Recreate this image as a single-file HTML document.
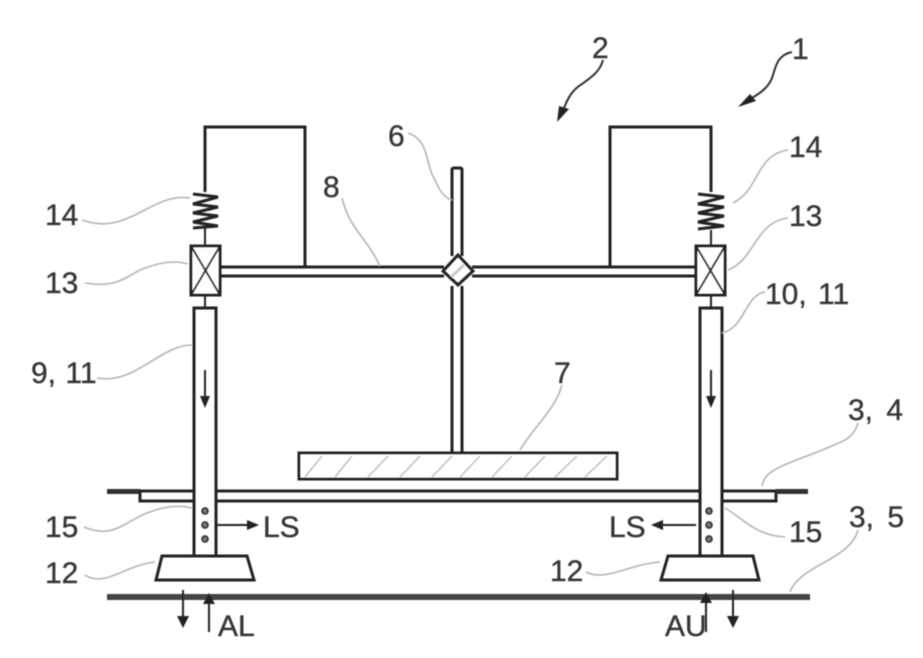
<!DOCTYPE html>
<html><head><meta charset="utf-8">
<style>
html,body{margin:0;padding:0;background:#fff;width:923px;height:658px;overflow:hidden}
svg{display:block}
text{font-family:"Liberation Sans",sans-serif;font-size:30px;fill:#333;stroke:#555;stroke-width:.5}
.l{fill:none;stroke:#222;stroke-width:3}
.t{fill:none;stroke:#222;stroke-width:3}
.g{fill:none;stroke:#b4b4b4;stroke-width:1.6}
.h{stroke:#bbb;stroke-width:1.5}
.a{fill:none;stroke:#222;stroke-width:2}
</style></head><body>
<svg width="923" height="658" viewBox="0 0 923 658" xmlns="http://www.w3.org/2000/svg">
<defs><filter id="b" x="0" y="0" width="100%" height="100%"><feGaussianBlur stdDeviation="0.45"/></filter></defs>
<g filter="url(#b)">
<!-- frames -->
<path class="l" d="M205 192V127H305V266"/>
<path class="l" d="M711 192V127H610V266"/>
<!-- beam -->
<path class="t" d="M221 267H444M221 276H444M472 267H696M472 276H696"/>
<!-- center -->
<path class="t" d="M452 256V170Q452 168 454 168H460Q462 168 462 170V256M452 286V452M462 286V452"/>
<path class="t" d="M458 255L473 271L458 285L443 271Z" fill="#fff"/>
<path d="M451 277L464 265" stroke="#ccc" stroke-width="3"/>
<!-- plate -->
<rect x="299" y="453" width="318" height="26" fill="#fff" stroke="#222" stroke-width="3"/>
<path class="h" d="M305 477L322 456M335 477L352 456M368 477L388 456M400 477L420 456M432 477L452 456M460 477L480 456M492 477L512 456M525 477L545 456M555 477L577 456M585 477L607 456"/>
<!-- floor upper -->
<path d="M107 489H140V494H107Z" fill="#333"/>
<path class="t" d="M140 490V501H194M140 491H194M216 491H700M216 501H700M722 491H776V501H722"/>
<path d="M776 489H808V494H776Z" fill="#333"/>
<!-- ground -->
<rect x="107" y="594" width="703" height="6" fill="#444"/>
<!-- columns -->
<path class="t" d="M194 556V308H216V556" fill="#fff"/>
<path class="t" d="M700 556V308H722V556" fill="#fff"/>
<path class="a" d="M205 295V308M711 295V308M205 228V245M711 230V246"/>
<!-- boxes 13 -->
<g fill="#fff" stroke="#222" stroke-width="3">
<rect x="191" y="246" width="29" height="49"/>
<rect x="696" y="246" width="29" height="49"/>
</g>
<path class="a" d="M191 246L220 295M220 246L191 295M696 246L725 295M725 246L696 295"/>
<!-- springs -->
<g fill="none" stroke="#222" stroke-width="3">
<path d="M193 194L218 197L193 204L218 207L193 213L218 216L193 222L218 226L193 228"/>
<path d="M698 194L724 197L698 204L724 207L698 213L724 216L698 222L724 226L698 229"/>
</g>
<!-- feet -->
<path class="t" d="M162 556H247L254 580H156Z" fill="#fff"/>
<path class="t" d="M668 556H753L759 580H661Z" fill="#fff"/>
<!-- dots -->
<g fill="#777" stroke="#222" stroke-width="1.5">
<circle cx="205" cy="511" r="3"/><circle cx="205" cy="525" r="3"/><circle cx="205" cy="539" r="3"/>
<circle cx="709" cy="511" r="3"/><circle cx="709" cy="525" r="3"/><circle cx="709" cy="539" r="3"/>
</g>
<!-- arrows -->
<path class="a" d="M205 370V400M711 370V400M183 590V620M209 632V600M706 632V600M733 590V620M216 525H250M696 525H660"/>
<g fill="#222">
<path d="M200 396H210L205 408Z"/><path d="M706 396H716L711 408Z"/>
<path d="M177 616H189L183 628Z"/><path d="M203 604H215L209 593Z"/>
<path d="M700 603H712L706 592Z"/><path d="M727 616H739L733 628Z"/>
<path d="M247 520V530L259 525Z"/><path d="M663 520V530L651 525Z"/>
</g>
<!-- leaders -->
<path class="g" d="M82 220C105 228 120 222 135 215C155 205 170 195 190 198"/>
<path class="g" d="M85 283C115 288 125 278 140 270C160 262 175 260 188 264"/>
<path class="g" d="M97 378C135 385 160 345 192 345"/>
<path class="g" d="M84 527C115 540 125 520 150 512C165 506 180 505 192 508"/>
<path class="g" d="M85 575C105 588 125 565 155 562"/>
<path class="g" d="M586 572C605 582 630 564 660 562"/>
<path class="g" d="M725 508C745 520 755 535 785 537"/>
<path class="g" d="M733 203C760 190 755 155 788 150"/>
<path class="g" d="M728 270C755 260 755 222 788 218"/>
<path class="g" d="M722 333C745 328 745 295 765 292"/>
<path class="g" d="M762 486C765 465 800 462 845 440C852 436 856 430 858 423"/>
<path class="g" d="M790 592C800 565 850 560 858 530"/>
<path class="g" d="M408 133C430 140 425 165 435 180C440 192 445 198 452 200"/>
<path class="g" d="M342 198C350 230 365 235 380 266"/>
<path class="g" d="M562 385C555 410 535 425 520 450"/>
<path fill="none" stroke="#333" stroke-width="2" d="M603 60C600 72 590 78 582 84C572 90 568 98 564 108"/>
<path fill="#222" d="M557 122L559 106L569 109Z"/>
<path fill="none" stroke="#333" stroke-width="2" d="M792 52C778 55 776 65 773 75C770 86 762 92 752 98"/>
<path fill="#222" d="M738 107L750 94L756 101Z"/>
<!-- labels -->
<text x="592" y="58">2</text>
<text x="792" y="59">1</text>
<text x="388" y="146">6</text>
<text x="323" y="197">8</text>
<text x="789" y="157">14</text>
<text x="789" y="226">13</text>
<text x="765" y="304" word-spacing="3">10, 11</text>
<text x="45" y="225">14</text>
<text x="45" y="293">13</text>
<text x="31" y="383" word-spacing="1">9, 11</text>
<text x="554" y="383">7</text>
<text x="848" y="420" word-spacing="5">3, 4</text>
<text x="849" y="527" word-spacing="5">3, 5</text>
<text x="45" y="537">15</text>
<text x="263" y="537">LS</text>
<text x="789" y="542">15</text>
<text x="609" y="537">LS</text>
<text x="45" y="583">12</text>
<text x="550" y="581">12</text>
<text x="218" y="636">AL</text>
<text x="665" y="636">AU</text>
</g>
</svg>
</body></html>
